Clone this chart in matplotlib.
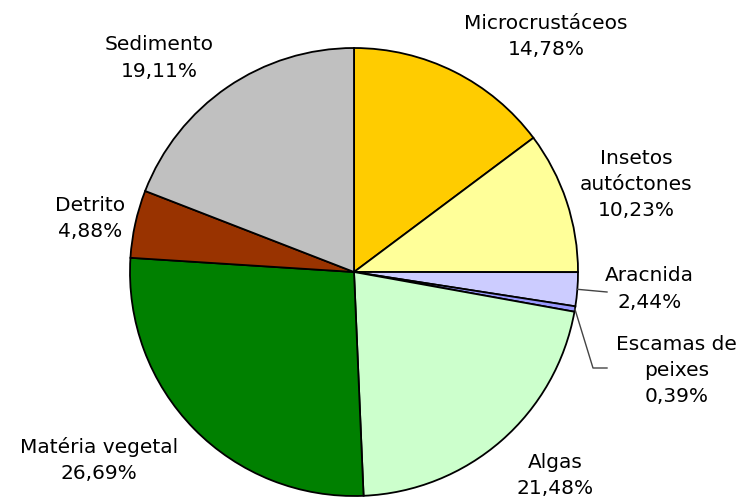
import numpy as np
import matplotlib
matplotlib.use("Agg")
import matplotlib.pyplot as plt

categories = ["Microcrustáceos", "Insetos\nautóctones", "Aracnida", "Escamas de\npeixes",
              "Algas", "Matéria vegetal", "Detrito", "Sedimento"]
values = [14.78, 10.23, 2.44, 0.39, 21.48, 26.69, 4.88, 19.11]
pct_labels = ["14,78%", "10,23%", "2,44%", "0,39%", "21,48%", "26,69%", "4,88%", "19,11%"]
colors = ["#FFCC00", "#FFFF99", "#CCCCFF", "#9999FF", "#CCFFCC", "#008000", "#993300", "#C0C0C0"]

W, H = 746, 501
cx, cy, R = 354, 272, 224

fig = plt.figure(figsize=(W / 100, H / 100), dpi=100)
ax = fig.add_axes([0, 0, 1, 1])
wedges, _ = ax.pie(values, colors=colors, startangle=90, counterclock=False,
                   wedgeprops=dict(edgecolor="black", linewidth=1.3))
ax.set_xlim(-cx / R, (W - cx) / R)
ax.set_ylim(-(H - cy) / R, cy / R)
ax.set_aspect("equal")
ax.axis("off")

# label positions (axes data units, radius = 1)
label_pos = [(0.857, 1.05), (1.26, 0.39), (1.32, -0.076), (1.44, -0.44),
             (0.897, -0.91), (-1.14, -0.84), (-1.18, 0.24), (-0.87, 0.955)]

for i, (w, lab, pct) in enumerate(zip(wedges, categories, pct_labels)):
    x, y = label_pos[i]
    ax.text(x, y, f"{lab}\n{pct}", ha="center", va="center", fontsize=14.5,
            color="black", linespacing=1.48, family="DejaVu Sans")

# leader lines for small slices
w = wedges[2]
ang = np.deg2rad((w.theta1 + w.theta2) / 2)
ax.plot([np.cos(ang), (607 - cx) / R], [np.sin(ang), (cy - 292) / R], color="#444444", lw=1)
w = wedges[3]
ang = np.deg2rad((w.theta1 + w.theta2) / 2)
ax.plot([np.cos(ang), (593 - cx) / R, (607 - cx) / R],
        [np.sin(ang), (cy - 368) / R, (cy - 368) / R], color="#444444", lw=1)

fig.savefig("out.png", dpi=100)
